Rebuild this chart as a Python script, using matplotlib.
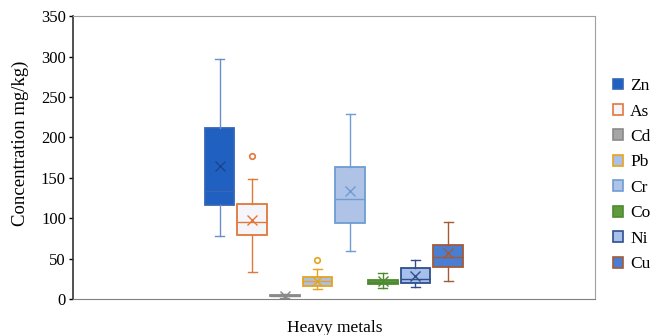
import matplotlib
matplotlib.use("Agg")
import matplotlib.pyplot as plt
from matplotlib.patches import Patch

metals = ["Zn", "As", "Cd", "Pb", "Cr", "Co", "Ni", "Cu"]
whislo = [78, 34, 2, 12.5, 60, 13.5, 15.5, 22]
q1 = [116, 79.5, 3.5, 16, 94.5, 19, 20.5, 40]
med = [134, 95, 4, 23, 124, 21.5, 25.5, 52.5]
q3 = [212, 117.5, 5, 27.5, 163, 23.5, 39, 67]
whishi = [297, 149, 6, 37, 229, 32, 48, 95]
means = [165, 98, 4, 22.5, 134, 22, 28.5, 56.5]
outliers = [[], [177], [], [48], [], [], [], []]

fills = ["#2060C0", "#F6F6FA", "#A6A6A6", "#A9C1EA", "#AEC3E6", "#5E9B3C", "#A7BFEB", "#4A7ED3"]
edges = ["#3566B8", "#E2773A", "#8A8A8A", "#E8A31E", "#6E9CD4", "#4E8A30", "#2F4E8C", "#A45A36"]
whisk = ["#6A8FCB", "#E2773A", "#8A8A8A", "#E8A31E", "#6E9CD4", "#4E8A30", "#2F4E8C", "#A45A36"]

plt.rcParams['font.family'] = ['Liberation Serif', 'DejaVu Serif']

fig = plt.figure(figsize=(6.69, 3.35), dpi=100)
ax = fig.add_axes([0.109, 0.107, 0.780, 0.845])

step = 0.0626
width = 0.057
for i, m in enumerate(metals):
    pos = (i - 3.5) * step
    stats = [dict(whislo=whislo[i], q1=q1[i], med=med[i], q3=q3[i], whishi=whishi[i],
                  mean=means[i], fliers=outliers[i], label=m)]
    ax.bxp(stats, positions=[pos], widths=width, capwidths=width * 0.3,
           showmeans=True, patch_artist=True, manage_ticks=False,
           boxprops=dict(facecolor=fills[i], edgecolor=edges[i], linewidth=1.3),
           medianprops=dict(color=edges[i], linewidth=1.0),
           whiskerprops=dict(color=whisk[i], linewidth=1.0),
           capprops=dict(color=whisk[i], linewidth=1.0),
           meanprops=dict(marker='x', markeredgecolor=edges[i] if i != 0 else "#1A4590",
                          markersize=7, markeredgewidth=1.0),
           flierprops=dict(marker='o', markerfacecolor='none', markeredgecolor=edges[i],
                           markersize=4, markeredgewidth=1.2))

ax.set_xlim(-0.5, 0.5)
ax.set_ylim(0, 350)
ax.set_yticks(range(0, 351, 50))
ax.set_xticks([])
ax.tick_params(axis='y', direction='out', length=3, width=1, labelsize=12, pad=2)
ax.spines['left'].set_color('#333333')
ax.spines['left'].set_linewidth(1.2)
ax.spines['bottom'].set_color('#808080')
ax.spines['top'].set_color('#A0A0A0')
ax.spines['right'].set_color('#A0A0A0')
fig.text(0.031, 0.573, "Concentration mg/kg)", rotation=90, ha='center', va='center', fontsize=13.5)
fig.text(0.5, 0.008, "Heavy metals", ha='center', va='baseline', fontsize=12.5)

handles = [Patch(facecolor=fills[i], edgecolor=edges[i], linewidth=1.2, label=m)
           for i, m in enumerate(metals)]
fig.legend(handles=handles, loc='upper left', bbox_to_anchor=(0.9165, 0.767),
           frameon=False, fontsize=12.5, handlelength=0.58, handleheight=0.58,
           handletextpad=0.4, labelspacing=0.545, borderaxespad=0, borderpad=0)

fig.savefig("out.png", dpi=100)
